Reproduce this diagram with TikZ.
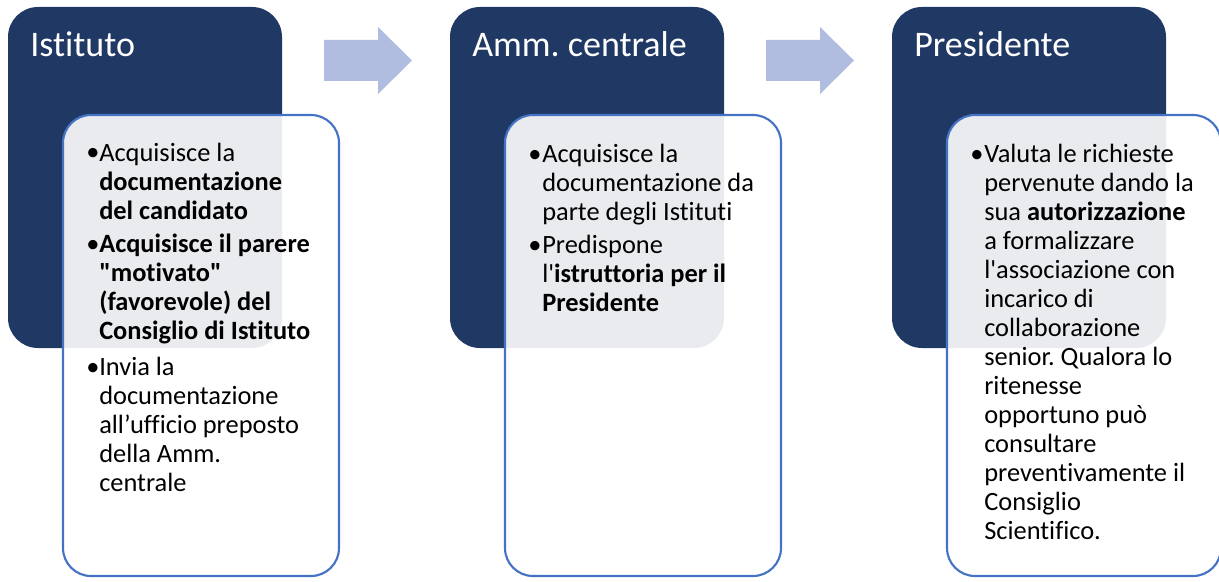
\documentclass[tikz,border=0pt]{standalone}
\usepackage{fontspec}
\newfontfamily\calibri{Carlito}[Ligatures={NoCommon}]
\frenchspacing
\definecolor{navy}{HTML}{203864}
\definecolor{boxblue}{HTML}{4472C4}
\definecolor{arrowfill}{HTML}{B0BDE0}
\newcommand\st{\rule{0pt}{16pt}}
\tikzset{
  darkbox/.style={fill=navy, rounded corners=22.5pt},
  lightbox/.style={fill=white, fill opacity=0.9, draw=boxblue, line width=1.6pt, rounded corners=21pt},
  blockarrow/.style={fill=arrowfill},
  titletext/.style={anchor=base west, inner sep=0pt, text=white, font=\calibri\fontsize{27pt}{32pt}\selectfont},
  para/.style={anchor=north west, inner sep=0pt, align=left, yshift=16pt, font=\calibri\frenchspacing\fontsize{19.8pt}{21.75pt}\selectfont},
  bul/.style={anchor=base west, inner sep=0pt, font=\calibri\fontsize{19.8pt}{21.75pt}\selectfont}
}
\begin{document}
\begin{tikzpicture}[x=0.75pt,y=-0.75pt]
\clip (0,0) rectangle (1219,581);
\fill[white] (0,0) rectangle (1219,581);

% arrows
\fill[blockarrow] (324,40) -- (378,40) -- (378,27) -- (412,60.5) -- (378,94) -- (378,81) -- (324,81) -- cycle;
\fill[blockarrow] (766,40) -- (820,40) -- (820,27) -- (854,60.5) -- (820,94) -- (820,81) -- (766,81) -- cycle;

% column 1
\fill[darkbox] (8,7) rectangle (282,348);
\node[titletext] (t1) at (30,57) {Istituto};
\path[lightbox] (63,115) rectangle (339,576);
\node[bul] (b11) at (86,161) {•};
\node[para] (p11) at (99,161) {\st Acquisisce la\\\textbf{documentazione}\\\textbf{del candidato}};
\node[bul] (b12) at (86,252) {•};
\node[para] (p12) at (99,252) {\st\textbf{Acquisisce il parere}\\\textbf{"motivato"}\\\textbf{(favorevole) del}\\\textbf{Consiglio di Istituto}};
\node[bul] (b13) at (86,375) {•};
\node[para] (p13) at (99,375) {\st Invia la\\documentazione\\all’ufficio preposto\\della Amm.\\centrale};

% column 2
\fill[darkbox] (450,7) rectangle (724,348);
\node[titletext] (t2) at (472,57) {Amm. centrale};
\path[lightbox] (505,115) rectangle (781,576);
\node[bul] (b21) at (528,162) {•};
\node[para] (p21) at (542,162) {\st Acquisisce la\\documentazione da\\parte degli Istituti};
\node[bul] (b22) at (528,253) {•};
\node[para] (p22) at (542,253) {\st Predispone\\l'\textbf{istruttoria per il}\\\textbf{Presidente}};

% column 3
\fill[darkbox] (892,7) rectangle (1166,348);
\node[titletext] (t3) at (914,57) {Presidente};
\path[lightbox] (947,115) rectangle (1221,576);
\node[bul] (b31) at (970,162) {•};
\node[para] (p31) at (984,162) {\st Valuta le richieste\\pervenute dando la\\sua \textbf{autorizzazione}\\a formalizzare\\l'associazione con\\incarico di\\collaborazione\\senior. Qualora lo\\ritenesse\\opportuno può\\consultare\\preventivamente il\\Consiglio\\Scientifico.};
\end{tikzpicture}
\end{document}
